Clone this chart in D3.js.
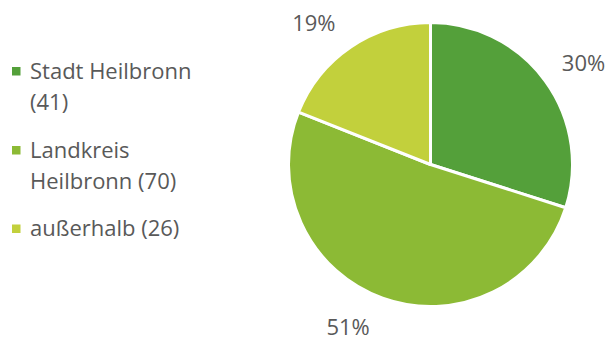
<!DOCTYPE html>
<html>
<head>
<meta charset="utf-8">
<script src="https://cdn.jsdelivr.net/npm/d3@7"></script>
<style>
	body { margin: 0; background: #fff; }
	text { font-family: 'Open Sans', sans-serif; fill: #595959; }
</style>
</head>
<body>
<svg id="svg" width="612" height="338"></svg>
<script>
const categories = ['Stadt Heilbronn', 'Landkreis Heilbronn', 'außerhalb'];
const legendLines = [['Stadt Heilbronn', '(41)'], ['Landkreis', 'Heilbronn (70)'], ['außerhalb (26)']];
const values = [41, 70, 26];
const colors = ['#54a03a', '#8cba35', '#c2d03c'];

const cx = 430.5;
const cy = 164.5;
const radius = 142;
const fontSize = 22;

// label placement tweaks (px), Excel-like "best fit"
const labelNudge = [[6, 6], [-21, -9], [-14.5, 9]];

const data = categories.map((c, i) => ({ name: c, value: values[i], color: colors[i], lines: legendLines[i] }));
const total = d3.sum(values);

const svg = d3.select('#svg');

const pie = d3.pie().sort(null).value((d) => d.value);
const arc = d3.arc().innerRadius(0).outerRadius(radius);
const labelArc = d3.arc().innerRadius(182).outerRadius(182);

const arcs = pie(data);

const pieGroup = svg.append('g').attr('transform', `translate(${cx}, ${cy})`);

pieGroup
	.selectAll('path')
	.data(arcs)
	.enter()
	.append('path')
	.attr('d', arc)
	.attr('fill', (d) => d.data.color)
	.attr('stroke', '#fff')
	.attr('stroke-width', 3)
	.attr('stroke-linejoin', 'round');

pieGroup
	.selectAll('text')
	.data(arcs)
	.enter()
	.append('text')
	.attr('x', (d, i) => labelArc.centroid(d)[0] + labelNudge[i][0])
	.attr('y', (d, i) => labelArc.centroid(d)[1] + labelNudge[i][1])
	.attr('dy', '0.36em')
	.attr('text-anchor', 'middle')
	.style('font-size', `${fontSize}px`)
	.text((d) => `${Math.round((d.data.value / total) * 100)}%`);

// legend
const legendBase = [78.5, 157.5, 236];
const lineGap = 31;
const legend = svg.append('g');

const items = legend
	.selectAll('g')
	.data(data)
	.enter()
	.append('g')
	.attr('transform', (d, i) => `translate(0, ${legendBase[i]})`);

items
	.append('rect')
	.attr('x', 12)
	.attr('y', -11.5)
	.attr('width', 8.5)
	.attr('height', 8.5)
	.attr('fill', (d) => d.color);

items
	.append('text')
	.style('font-size', `${fontSize}px`)
	.selectAll('tspan')
	.data((d) => d.lines)
	.enter()
	.append('tspan')
	.attr('x', 30)
	.attr('dy', (d, i) => (i === 0 ? 0 : lineGap))
	.text((d) => d);
</script>
</body>
</html>
